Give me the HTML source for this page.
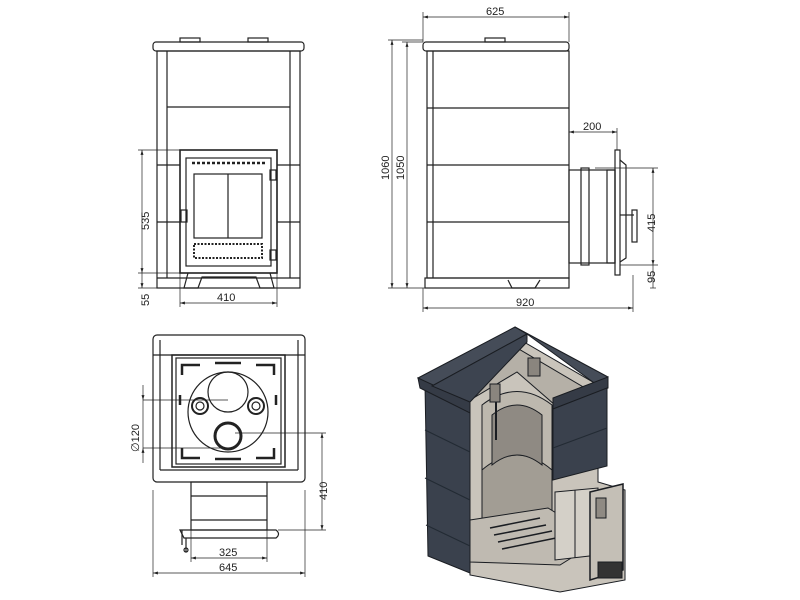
<!DOCTYPE html>
<html><head><meta charset="utf-8"><style>
html,body{margin:0;padding:0;background:#fff;}
svg{display:block;}
text{font-family:"Liberation Sans",sans-serif;font-size:11px;fill:#222;}
</style></head><body>
<svg width="800" height="600" viewBox="0 0 800 600" xmlns="http://www.w3.org/2000/svg">
<defs>
<marker id="a" viewBox="0 0 10 10" refX="10" refY="5" markerWidth="7" markerHeight="7" orient="auto-start-reverse"><path d="M0,2 L10,5 L0,8 z" fill="#222"/></marker>
</defs>
<g fill="none" stroke="#222" stroke-width="1.2">
<!-- FRONT VIEW -->
<rect x="153" y="42" width="151" height="9" rx="3"/>
<rect x="180" y="38" width="20" height="4"/><rect x="248" y="38" width="20" height="4"/>
<rect x="157" y="51" width="143" height="237"/>
<line x1="167" y1="51" x2="167" y2="278"/><line x1="290" y1="51" x2="290" y2="278"/>
<line x1="167" y1="107" x2="290" y2="107"/>
<line x1="157" y1="165" x2="180" y2="165"/><line x1="277" y1="165" x2="300" y2="165"/>
<line x1="157" y1="222" x2="180" y2="222"/><line x1="277" y1="222" x2="300" y2="222"/>
<line x1="157" y1="278" x2="300" y2="278"/>
<rect x="180" y="150" width="97" height="123" stroke-width="1.6"/>
<rect x="186" y="158" width="85" height="108"/>
<line x1="192" y1="163" x2="265" y2="163" stroke-dasharray="3,2" stroke-width="2.5"/>
<rect x="194" y="174" width="68" height="64"/><line x1="228" y1="174" x2="228" y2="238"/>
<rect x="194" y="244" width="68" height="14" stroke-dasharray="2,1.5" stroke-width="2"/>
<rect x="181" y="210" width="6" height="12"/><rect x="270" y="170" width="6" height="10"/><rect x="270" y="250" width="6" height="10"/>
<path d="M188,273 L184,288 L198,288 L202,277 L256,277 L260,288 L274,288 L270,273"/>
<g stroke-width="0.7">
<line x1="138" y1="150" x2="180" y2="150"/><line x1="138" y1="273" x2="180" y2="273"/><line x1="138" y1="288" x2="157" y2="288"/>
<line x1="142" y1="150" x2="142" y2="273" marker-start="url(#a)" marker-end="url(#a)"/>
<line x1="142" y1="273" x2="142" y2="288" marker-end="url(#a)"/>
<line x1="180" y1="273" x2="180" y2="307"/><line x1="277" y1="273" x2="277" y2="307"/>
<line x1="180" y1="303" x2="277" y2="303" marker-start="url(#a)" marker-end="url(#a)"/>
</g>
<!-- SIDE VIEW -->
<rect x="423" y="42" width="146" height="9" rx="3"/>
<rect x="485" y="38" width="20" height="4"/>
<rect x="427" y="51" width="142" height="227"/>
<line x1="433" y1="51" x2="433" y2="278"/>
<line x1="427" y1="108" x2="569" y2="108"/><line x1="427" y1="165" x2="569" y2="165"/><line x1="427" y1="222" x2="569" y2="222"/>
<rect x="425" y="278" width="144" height="10"/>
<path d="M508,280 L512,288 L535,288 L540,280"/>
<rect x="569" y="170" width="46" height="93"/>
<rect x="581" y="168" width="8" height="97"/><rect x="607" y="170" width="8" height="93"/>
<rect x="615" y="150" width="5" height="125"/>
<path d="M620,160 L626,165 L626,258 L620,262"/>
<rect x="632" y="210" width="5" height="32"/><line x1="620" y1="215" x2="634" y2="215"/>
<g stroke-width="0.7">
<line x1="423" y1="12" x2="423" y2="42"/><line x1="569" y1="12" x2="569" y2="42"/>
<line x1="423" y1="17" x2="569" y2="17" marker-start="url(#a)" marker-end="url(#a)"/>
<line x1="388" y1="40" x2="423" y2="40"/><line x1="402" y1="42" x2="423" y2="42"/><line x1="388" y1="288" x2="425" y2="288"/>
<line x1="392" y1="40" x2="392" y2="288" marker-start="url(#a)" marker-end="url(#a)"/>
<line x1="407" y1="42" x2="407" y2="288" marker-start="url(#a)" marker-end="url(#a)"/>
<line x1="569" y1="132" x2="617" y2="132" marker-start="url(#a)" marker-end="url(#a)"/><line x1="617" y1="128" x2="617" y2="150"/>
<line x1="595" y1="168" x2="658" y2="168"/><line x1="620" y1="265" x2="658" y2="265"/>
<line x1="653" y1="168" x2="653" y2="265" marker-start="url(#a)" marker-end="url(#a)"/>
<line x1="653" y1="265" x2="653" y2="288"/><line x1="650" y1="288" x2="656" y2="288"/>
<line x1="423" y1="288" x2="423" y2="312"/><line x1="633" y1="275" x2="633" y2="312"/>
<line x1="423" y1="308" x2="633" y2="308" marker-start="url(#a)" marker-end="url(#a)"/>
</g>
<!-- TOP VIEW -->
<rect x="153" y="335" width="152" height="147" rx="4"/>
<line x1="153" y1="355" x2="305" y2="355"/><line x1="160" y1="470" x2="298" y2="470"/>
<line x1="160" y1="340" x2="160" y2="470"/><line x1="298" y1="340" x2="298" y2="470"/>
<rect x="172" y="355" width="113" height="112" stroke-width="1.5"/>
<rect x="176" y="358" width="105" height="106"/>
<circle cx="228" cy="412" r="40"/><circle cx="228" cy="392" r="20"/>
<circle cx="228" cy="436" r="13" stroke-width="3"/>
<circle cx="200" cy="406" r="8" stroke-width="2"/><circle cx="200" cy="406" r="4"/>
<circle cx="256" cy="406" r="8" stroke-width="2"/><circle cx="256" cy="406" r="4"/>
<path d="M182,375 L182,365 L200,365 M274,375 L274,365 L256,365 M182,448 L182,458 L200,458 M274,448 L274,458 L256,458" stroke-width="2.5"/>
<path d="M215,363 L241,363 M215,459 L241,459 M180,395 L180,405 M276,395 L276,405" stroke-width="2.5"/>
<rect x="191" y="482" width="76" height="48"/>
<line x1="191" y1="496" x2="267" y2="496"/><line x1="191" y1="520" x2="267" y2="520"/>
<path d="M180,530 L276,530 Q281,534 276,538 L184,538 Z"/>
<path d="M182,530 L182,545 M186,538 L186,552"/><circle cx="186" cy="550" r="2"/>
<g stroke-width="0.7">
<line x1="143" y1="400" x2="228" y2="400"/><line x1="143" y1="448" x2="228" y2="448"/>
<line x1="143" y1="385" x2="143" y2="400" marker-end="url(#a)"/><line x1="143" y1="463" x2="143" y2="448" marker-end="url(#a)"/><line x1="143" y1="400" x2="143" y2="448"/>
<line x1="235" y1="433" x2="326" y2="433"/><line x1="278" y1="530" x2="326" y2="530"/>
<line x1="322" y1="433" x2="322" y2="530" marker-start="url(#a)" marker-end="url(#a)"/>
<line x1="191" y1="530" x2="191" y2="562"/><line x1="267" y1="530" x2="267" y2="562"/>
<line x1="191" y1="558" x2="267" y2="558" marker-start="url(#a)" marker-end="url(#a)"/>
<line x1="153" y1="490" x2="153" y2="577"/><line x1="305" y1="490" x2="305" y2="577"/>
<line x1="153" y1="573" x2="305" y2="573" marker-start="url(#a)" marker-end="url(#a)"/>
</g>
</g>
<!-- 3D VIEW -->
<g stroke="#1a1d22" stroke-width="1">
<polygon points="440,388 517,338 598,385 598,482 625,490 625,580 560,592 470,575 470,405" fill="#c9c4bb"/>
<polygon points="455,390 517,348 585,388 555,405 517,372 470,400" fill="#b5b0a7"/>
<path d="M482,405 Q517,378 552,405 L552,545 Q517,570 482,545 Z" fill="#bdb8ae"/>
<path d="M482,470 Q517,440 552,470 L552,545 Q517,570 482,545 Z" fill="#a29d94"/>
<path d="M492,415 Q517,395 542,415 L542,465 Q517,445 492,465 Z" fill="#8f8a83"/>
<polygon points="470,520 548,508 600,540 560,565 470,562" fill="#bfbab1"/>
<path d="M490,528 L540,518 M494,535 L546,525 M498,542 L552,531 M502,549 L556,538" stroke-width="1.5"/>
<polygon points="555,492 598,488 598,555 555,560" fill="#d4d0c8"/>
<line x1="575" y1="490" x2="575" y2="558"/>
<polygon points="590,492 623,484 623,570 590,580" fill="#c4bfb6" stroke-width="1.5"/>
<rect x="596" y="498" width="10" height="20" fill="#8f8a83"/>
<rect x="598" y="562" width="24" height="16" fill="#333"/>
<rect x="528" y="358" width="12" height="18" fill="#8a857e"/>
<rect x="490" y="384" width="10" height="18" fill="#8a857e"/>
<line x1="496" y1="402" x2="496" y2="440" stroke-width="2"/>
<polygon points="425,385 470,408 470,573 428,556" fill="#3a414d"/>
<polygon points="418,378 515,327 527,334 432,386" fill="#454c58"/>
<polygon points="418,378 470,402 470,413 420,388" fill="#353b46"/>
<polygon points="432,386 527,334 527,342 470,402" fill="#3d4450"/>
<polygon points="515,327 608,377 597,385 527,334" fill="#454c58"/>
<polygon points="553,398 608,377 608,388 553,409" fill="#353b46"/>
<polygon points="553,409 607,388 607,466 553,480" fill="#3a414d"/>
<g stroke="#222a33">
<line x1="425" y1="430" x2="470" y2="452"/><line x1="425" y1="478" x2="470" y2="500"/><line x1="426" y1="525" x2="470" y2="546"/>
<line x1="553" y1="448" x2="607" y2="428"/>
</g>
</g>
<!-- labels -->
<text x="486" y="15">625</text>
<text x="583" y="130">200</text>
<text x="217" y="301">410</text>
<text x="219" y="556">325</text>
<text x="219" y="571">645</text>
<text x="516" y="306">920</text>
<text transform="translate(149,230) rotate(-90)">535</text>
<text transform="translate(149,306) rotate(-90)">55</text>
<text transform="translate(389,180) rotate(-90)">1060</text>
<text transform="translate(404,180) rotate(-90)">1050</text>
<text transform="translate(655,232) rotate(-90)">415</text>
<text transform="translate(655,283) rotate(-90)">95</text>
<text transform="translate(327,500) rotate(-90)">410</text>
<text transform="translate(139,452) rotate(-90)">∅120</text>
</svg>
</body></html>
